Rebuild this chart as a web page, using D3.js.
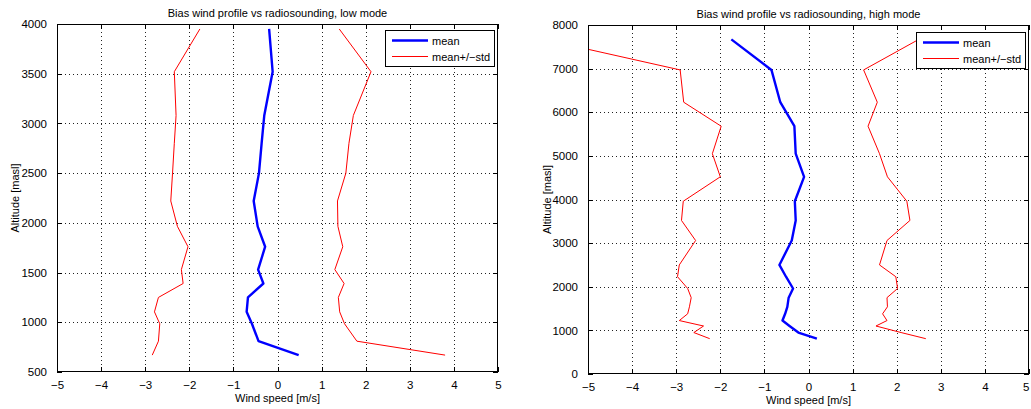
<!DOCTYPE html>
<html>
<head>
<meta charset="utf-8">
<script src="https://cdn.jsdelivr.net/npm/d3@7"></script>
<style>
  html, body { margin: 0; padding: 0; background: #fff; }
  svg { display: block; }
  text { font-family: "Liberation Sans", Arial, Helvetica, sans-serif; fill: #000; }
</style>
</head>
<body>
<svg id="chart" width="1031" height="409"></svg>
<script>
// ---------- data ----------
const xTicks = [-5, -4, -3, -2, -1, 0, 1, 2, 3, 4, 5];

// low mode
const lowTitle = "Bias wind profile vs radiosounding, low mode";
const lowYTicks = [500, 1000, 1500, 2000, 2500, 3000, 3500, 4000];
const lowAltitude = [670, 810, 985, 1105, 1250, 1390, 1530, 1760, 1965, 2220, 2500, 2800, 3080, 3520, 3950];
const lowMean  = [0.48, -0.43, -0.58, -0.70, -0.67, -0.32, -0.44, -0.28, -0.45, -0.54, -0.42, -0.36, -0.30, -0.11, -0.19];
const lowLower = [-2.84, -2.70, -2.67, -2.79, -2.70, -2.14, -2.18, -2.03, -2.27, -2.42, -2.38, -2.34, -2.30, -2.34, -1.76];
const lowUpper = [3.80, 1.80, 1.52, 1.41, 1.38, 1.51, 1.30, 1.48, 1.37, 1.36, 1.55, 1.62, 1.72, 2.12, 1.40];

// high mode
const highTitle = "Bias wind profile vs radiosounding, high mode";
const highYTicks = [0, 1000, 2000, 3000, 4000, 5000, 6000, 7000, 8000];
const highAltitude = [810, 950, 1100, 1225, 1380, 1540, 1750, 1960, 2230, 2500, 3060, 3520, 3960, 4520, 5050, 5680, 6230, 6970, 7670];
const highMean  = [0.19, -0.23, -0.43, -0.59, -0.53, -0.48, -0.45, -0.35, -0.51, -0.66, -0.38, -0.29, -0.31, -0.10, -0.29, -0.32, -0.64, -0.84, -1.75];
const highLower = [-2.24, -2.60, -2.38, -2.93, -2.74, -2.70, -2.66, -2.74, -2.97, -2.93, -2.56, -2.88, -2.84, -2.00, -2.18, -1.98, -2.83, -2.91, -6.00];
const highUpper = [2.66, 2.10, 1.53, 1.78, 1.68, 1.79, 1.78, 2.02, 1.98, 1.61, 1.78, 2.30, 2.23, 1.79, 1.61, 1.35, 1.56, 1.25, 2.50];

const legendLabels = ["mean", "mean+/\u2212std"];
const xLabel = "Wind speed [m/s]";
const yLabel = "Altitude [masl]";

// ---------- drawing ----------
const svg = d3.select("#chart");
const fmt = d => d3.format("")(d).replace("-", "\u2212");

function panel(cfg) {
  const { left, right, top, bottom, yDomain, yTicks, alt, mean, lower, upper, title, id, leg } = cfg;
  const x = d3.scaleLinear().domain([-5, 5]).range([left, right]);
  const y = d3.scaleLinear().domain(yDomain).range([bottom, top]);
  const g = svg.append("g");

  // grid
  const grid = g.append("g").attr("stroke", "#222").attr("stroke-width", 1)
    .attr("stroke-dasharray", "1,3").attr("shape-rendering", "crispEdges");
  grid.selectAll(".gx").data(xTicks.slice(1, -1)).join("line")
    .attr("x1", d => Math.round(x(d)) + 0.5).attr("x2", d => Math.round(x(d)) + 0.5)
    .attr("y1", top).attr("y2", bottom);
  grid.selectAll(".gy").data(yTicks.slice(1, -1)).join("line")
    .attr("y1", d => Math.round(y(d)) + 0.5).attr("y2", d => Math.round(y(d)) + 0.5)
    .attr("x1", left).attr("x2", right);

  // clip
  svg.append("clipPath").attr("id", id).append("rect")
    .attr("x", left).attr("y", top).attr("width", right - left).attr("height", bottom - top);

  const lineOf = vals => d3.line().x((d, i) => x(vals[i])).y(d => y(d))(alt);
  const lines = g.append("g").attr("clip-path", `url(#${id})`).attr("fill", "none");
  lines.append("path").attr("d", lineOf(mean)).attr("stroke", "#0000ff").attr("stroke-width", 2.4)
    .attr("stroke-linejoin", "round");
  lines.append("path").attr("d", lineOf(lower)).attr("stroke", "#ff0000").attr("stroke-width", 1);
  lines.append("path").attr("d", lineOf(upper)).attr("stroke", "#ff0000").attr("stroke-width", 1);

  // axes
  const tickLen = 5;
  const axB = g.append("g").attr("transform", `translate(0,${bottom})`)
    .call(d3.axisBottom(x).tickValues(xTicks).tickFormat(fmt).tickSizeInner(-tickLen).tickSizeOuter(0).tickPadding(9));
  const axT = g.append("g").attr("transform", `translate(0,${top})`)
    .call(d3.axisTop(x).tickValues(xTicks).tickFormat("").tickSizeInner(-tickLen).tickSizeOuter(0));
  const axL = g.append("g").attr("transform", `translate(${left},0)`)
    .call(d3.axisLeft(y).tickValues(yTicks).tickFormat(d3.format("")).tickSizeInner(-tickLen).tickSizeOuter(0).tickPadding(10));
  const axR = g.append("g").attr("transform", `translate(${right},0)`)
    .call(d3.axisRight(y).tickValues(yTicks).tickFormat("").tickSizeInner(-tickLen).tickSizeOuter(0));
  [axB, axT, axL, axR].forEach(a => {
    a.select(".domain").remove();
    a.selectAll("line").attr("stroke", "#000").attr("shape-rendering", "crispEdges");
    a.selectAll("text").style("font-size", "11.5px").attr("fill", "#000");
  });
  // keep the last x label inside the picture
  if (cfg.clampLast) {
    axB.selectAll(".tick").filter(d => d === 5).select("text").attr("text-anchor", "end").attr("dx", "0");
  }
  g.append("rect").attr("x", left + 0.5).attr("y", top + 0.5)
    .attr("width", right - left - 1).attr("height", bottom - top - 1)
    .attr("fill", "none").attr("stroke", "#000").attr("stroke-width", 1).attr("shape-rendering", "crispEdges");

  // titles
  g.append("text").attr("x", (left + right) / 2).attr("y", top - 7).attr("text-anchor", "middle")
    .style("font-size", "11px").text(title);
  g.append("text").attr("x", (left + right) / 2).attr("y", bottom + 30).attr("text-anchor", "middle")
    .style("font-size", "11px").text(xLabel);
  g.append("text").attr("transform", `translate(${cfg.ylabX},${(top + bottom) / 2}) rotate(-90)`)
    .attr("text-anchor", "middle").style("font-size", "11px").text(yLabel);

  // legend
  const lg = g.append("g");
  lg.append("rect").attr("x", leg.x + 0.5).attr("y", leg.y + 0.5).attr("width", leg.w).attr("height", leg.h)
    .attr("fill", "#fff").attr("stroke", "#000").attr("stroke-width", 1).attr("shape-rendering", "crispEdges");
  const legColors = ["#0000ff", "#ff0000"], legWidths = [2.4, 1];
  legendLabels.forEach((lab, i) => {
    const ly = leg.y + 10.5 + i * 16;
    lg.append("line").attr("x1", leg.x + 7).attr("x2", leg.x + 43).attr("y1", ly).attr("y2", ly)
      .attr("stroke", legColors[i]).attr("stroke-width", legWidths[i]);
    lg.append("text").attr("x", leg.x + 47).attr("y", ly + 4).style("font-size", "11px").text(lab);
  });
}

panel({
  id: "clipLow", left: 57, right: 498, top: 24, bottom: 372, yDomain: [500, 4000], yTicks: lowYTicks,
  alt: lowAltitude, mean: lowMean, lower: lowLower, upper: lowUpper, title: lowTitle, ylabX: 19,
  leg: { x: 385, y: 30, w: 109, h: 36 }
});
panel({
  id: "clipHigh", left: 588, right: 1029, top: 25, bottom: 374, yDomain: [0, 8000], yTicks: highYTicks,
  alt: highAltitude, mean: highMean, lower: highLower, upper: highUpper, title: highTitle, ylabX: 551,
  leg: { x: 916, y: 32, w: 109, h: 36 }, clampLast: true
});
</script>
</body>
</html>
